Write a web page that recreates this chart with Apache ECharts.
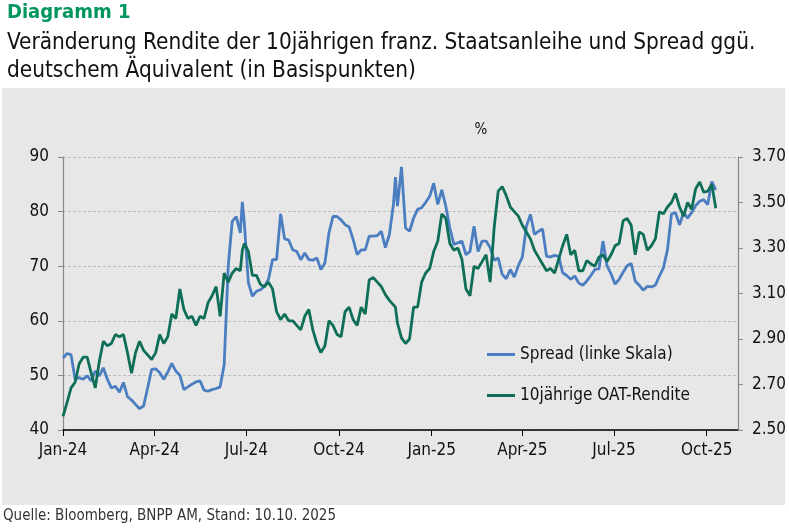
<!DOCTYPE html>
<html>
<head>
<meta charset="utf-8">
<script src="https://cdn.jsdelivr.net/npm/echarts@6/dist/echarts.min.js"></script>
<style>
  html, body { margin: 0; padding: 0; background: #fff; }
  #chart { width: 789px; height: 531px; }
</style>
</head>
<body>
<div id="chart"></div>
<script>
// Stützpunkte (alle 4 Tage, plus einzelne Spitzen)
const dates = [
  '2024-01-01','2024-01-05','2024-01-09','2024-01-13','2024-01-17','2024-01-21','2024-01-25','2024-01-29',
  '2024-02-02','2024-02-06','2024-02-10','2024-02-14','2024-02-18','2024-02-22','2024-02-26',
  '2024-03-01','2024-03-05','2024-03-09','2024-03-13','2024-03-17','2024-03-21','2024-03-25','2024-03-29',
  '2024-04-02','2024-04-06','2024-04-10','2024-04-14','2024-04-18','2024-04-22','2024-04-26','2024-04-30',
  '2024-05-04','2024-05-08','2024-05-12','2024-05-16','2024-05-20','2024-05-24','2024-05-28',
  '2024-06-01','2024-06-05','2024-06-09','2024-06-13','2024-06-17','2024-06-21','2024-06-25','2024-06-27','2024-06-29',
  '2024-07-03','2024-07-07','2024-07-11','2024-07-15','2024-07-19','2024-07-23','2024-07-27','2024-07-31',
  '2024-08-04','2024-08-08','2024-08-12','2024-08-16','2024-08-20','2024-08-24','2024-08-28',
  '2024-09-01','2024-09-05','2024-09-09','2024-09-13','2024-09-17','2024-09-21','2024-09-25','2024-09-29',
  '2024-10-03','2024-10-07','2024-10-11','2024-10-15','2024-10-19','2024-10-23','2024-10-27','2024-10-31',
  '2024-11-04','2024-11-08','2024-11-12','2024-11-16','2024-11-20','2024-11-24','2024-11-26','2024-11-28',
  '2024-12-02','2024-12-06','2024-12-10','2024-12-14','2024-12-18','2024-12-22','2024-12-26','2024-12-30',
  '2025-01-03','2025-01-07','2025-01-11','2025-01-15','2025-01-19','2025-01-23','2025-01-27','2025-01-31',
  '2025-02-04','2025-02-08','2025-02-12','2025-02-16','2025-02-20','2025-02-24','2025-02-28',
  '2025-03-04','2025-03-08','2025-03-12','2025-03-16','2025-03-20','2025-03-24','2025-03-28',
  '2025-04-01','2025-04-05','2025-04-09','2025-04-13','2025-04-17','2025-04-21','2025-04-25','2025-04-29',
  '2025-05-03','2025-05-07','2025-05-11','2025-05-15','2025-05-19','2025-05-23','2025-05-27','2025-05-31',
  '2025-06-04','2025-06-08','2025-06-12','2025-06-16','2025-06-20','2025-06-24','2025-06-28',
  '2025-07-02','2025-07-06','2025-07-10','2025-07-14','2025-07-18','2025-07-22','2025-07-26','2025-07-30',
  '2025-08-03','2025-08-07','2025-08-11','2025-08-15','2025-08-19','2025-08-23','2025-08-27','2025-08-31',
  '2025-09-04','2025-09-08','2025-09-12','2025-09-16','2025-09-20','2025-09-24','2025-09-28',
  '2025-10-02','2025-10-06','2025-10-10'
];

// Spread ggü. Bund (Bp, linke Skala)
const spread = [
  53.2,54.0,53.8,49.3,49.6,49.3,49.9,49.0,
  50.8,49.9,51.4,49.3,47.7,48.0,46.9,
  48.7,46.1,45.5,44.7,43.9,44.4,47.7,51.1,
  51.2,50.5,49.3,50.6,52.2,50.8,50.0,47.4,
  47.9,48.4,48.8,49.0,47.3,47.1,47.4,
  47.6,47.9,52.0,70.0,78.2,79.1,76.1,81.8,77.9,
  67.0,64.5,65.4,65.7,66.3,67.6,71.2,71.2,
  79.6,75.0,74.8,73.0,72.7,71.2,72.4,
  71.2,71.1,71.5,69.4,70.6,76.1,79.1,79.1,
  78.5,77.6,77.2,74.9,72.1,73.0,73.0,75.5,
  75.5,75.6,76.4,73.4,75.8,81.3,86.3,81.0,
  88.2,77.0,76.4,78.8,80.4,80.7,81.7,82.8,
  85.2,81.3,84.0,81.0,77.0,74.0,74.3,74.6,
  72.1,72.7,77.3,72.7,74.6,74.6,73.4,
  71.1,71.5,68.5,67.7,69.4,68.0,70.1,
  71.7,77.3,79.5,75.8,76.4,76.8,71.8,71.7,
  72.0,71.8,68.8,68.3,67.6,68.2,66.9,66.5,
  67.3,68.3,69.4,69.5,74.6,70.1,68.6,
  66.7,67.6,68.9,70.1,70.5,67.3,66.5,65.6,
  66.3,66.2,66.5,68.2,69.7,73.0,79.6,79.8,
  77.6,79.8,78.8,79.8,81.1,81.9,82.2,
  81.3,85.5,84.0
];

// 10jährige OAT-Rendite (%, rechte Skala)
const oat = [
  2.56,2.62,2.685,2.71,2.79,2.82,2.82,2.75,
  2.685,2.80,2.89,2.87,2.88,2.92,2.91,
  2.92,2.84,2.75,2.84,2.89,2.85,2.83,2.81,
  2.84,2.92,2.88,2.91,3.01,2.99,3.12,3.03,
  2.99,3.00,2.96,3.00,2.99,3.06,3.09,
  3.13,3.00,3.19,3.15,3.19,3.21,3.20,3.29,3.32,
  3.285,3.18,3.18,3.14,3.13,3.15,3.12,3.02,
  2.985,3.01,2.98,2.98,2.96,2.94,3.00,
  3.03,2.94,2.88,2.84,2.87,2.98,2.96,2.92,
  2.91,3.02,3.04,2.985,2.96,3.04,3.01,3.16,
  3.17,3.15,3.13,3.095,3.07,3.05,3.04,2.97,
  2.905,2.88,2.90,3.04,3.04,3.15,3.19,3.21,
  3.285,3.33,3.45,3.43,3.32,3.29,3.30,3.25,
  3.12,3.09,3.22,3.21,3.24,3.27,3.15,
  3.39,3.55,3.57,3.53,3.48,3.46,3.44,
  3.40,3.37,3.34,3.29,3.26,3.23,3.20,3.21,
  3.19,3.25,3.31,3.36,3.27,3.29,3.20,3.20,
  3.245,3.23,3.22,3.26,3.27,3.24,3.27,
  3.31,3.32,3.42,3.43,3.40,3.27,3.37,3.36,
  3.29,3.31,3.34,3.46,3.45,3.48,3.50,3.54,
  3.48,3.44,3.50,3.47,3.56,3.59,3.545,
  3.55,3.58,3.475
];

const monthNames = ['Jan','Feb','Mar','Apr','May','Jun','Jul','Aug','Sep','Oct','Nov','Dec'];
const leftTicks = { min: 40, max: 90, step: 10 };
const rightTicks = { min: 2.5, max: 3.7, step: 0.2 };

const FONT = "'Liberation Sans Narrow', 'DejaVu Sans Condensed', Roboto, sans-serif";
const BLUE = '#4A7EC0';
const GREEN = '#0E6E58';

const chart = echarts.init(document.getElementById('chart'), null, { renderer: 'canvas' });

const option = {
  backgroundColor: '#ffffff',
  animation: false,
  textStyle: { fontFamily: FONT },
  graphic: [
    { type: 'rect', z: -10, silent: true, shape: { x: 2, y: 88, width: 783, height: 417 }, style: { fill: '#E7E7E7' } },
    { type: 'text', left: 7, top: 3, style: { text: 'Diagramm 1', font: "bold 20px " + FONT, fill: '#00965E' } },
    { type: 'text', left: 7, top: 29, style: { text: 'Veränderung Rendite der 10jährigen franz. Staatsanleihe und Spread ggü.\ndeutschem Äquivalent (in Basispunkten)', font: "22.4px " + FONT, lineHeight: 28, fill: '#111111' } },
    { type: 'text', x: 481, y: 130, style: { text: '%', font: "15px " + FONT, fill: '#111111', align: 'center', verticalAlign: 'middle' } },
    { type: 'text', left: 3, top: 509, style: { text: 'Quelle: Bloomberg, BNPP AM, Stand: 10.10. 2025', font: "15px " + FONT, fill: '#333333' } }
  ],
  legend: {
    orient: 'vertical', left: 487, top: 346, itemGap: 24, padding: 0,
    itemWidth: 28, itemHeight: 3, icon: 'rect',
    textStyle: { fontSize: 17, color: '#111', fontFamily: FONT },
    data: ['Spread (linke Skala)', '10jährige OAT-Rendite']
  },
  grid: { left: 63, right: 51, top: 157, bottom: 101 },
  xAxis: {
    type: 'time',
    min: '2024-01-01', max: '2025-11-01',
    minInterval: 95 * 86400000, maxInterval: 95 * 86400000,
    axisLine: { lineStyle: { color: '#000', width: 1.5 } },
    axisTick: { show: true, length: 6, lineStyle: { color: '#000' } },
    splitLine: { show: false },
    axisLabel: {
      margin: 12, fontSize: 17, color: '#111', fontFamily: FONT,
      formatter: v => { const d = new Date(v); return monthNames[d.getMonth()] + '-' + String(d.getFullYear()).slice(2); }
    }
  },
  yAxis: [
    {
      type: 'value', position: 'left',
      min: leftTicks.min, max: leftTicks.max, interval: leftTicks.step,
      axisLine: { show: true, lineStyle: { color: '#888', width: 1.2 } },
      axisTick: { show: true, length: 5, lineStyle: { color: '#888' } },
      axisLabel: { margin: 14, fontSize: 17, color: '#111', fontFamily: FONT },
      splitLine: { show: true, lineStyle: { color: '#BDBDBD', width: 1, type: [3, 2] } }
    },
    {
      type: 'value', position: 'right',
      min: rightTicks.min, max: rightTicks.max, interval: rightTicks.step,
      axisLine: { show: true, lineStyle: { color: '#888', width: 1.2 } },
      axisTick: { show: true, length: 5, lineStyle: { color: '#888' } },
      axisLabel: { margin: 14, fontSize: 17, color: '#111', fontFamily: FONT, formatter: v => v.toFixed(2) },
      splitLine: { show: false }
    }
  ],
  series: [
    {
      name: 'Spread (linke Skala)', type: 'line', yAxisIndex: 0,
      data: dates.map((d, i) => [d, spread[i]]),
      symbol: 'none', lineStyle: { color: BLUE, width: 2.8 }, itemStyle: { color: BLUE }
    },
    {
      name: '10jährige OAT-Rendite', type: 'line', yAxisIndex: 1,
      data: dates.map((d, i) => [d, oat[i]]),
      symbol: 'none', lineStyle: { color: GREEN, width: 2.8 }, itemStyle: { color: GREEN }
    }
  ]
};

chart.setOption(option);
</script>
</body>
</html>
